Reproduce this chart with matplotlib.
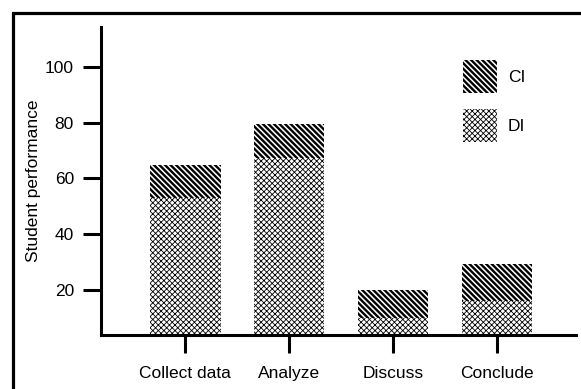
import matplotlib.pyplot as plt
from matplotlib.patches import Rectangle

plt.rcParams['font.family'] = ['Liberation Sans', 'DejaVu Sans']

# data
categories = ["Collect data", "Analyze", "Discuss", "Conclude"]
di_values = [53, 67.5, 10, 16]
ci_values = [12, 12, 10, 13.5]
series_labels = ["CI", "DI"]

fig = plt.figure(figsize=(5.81, 3.89), dpi=100)
ax = fig.add_axes([0.1738, 0.1388, 0.8176, 0.7918])

x = list(range(len(categories)))
width = 0.68

di = ax.bar(x, di_values, width, color='white', edgecolor='black',
            linewidth=0, hatch='xxxxxx', label=series_labels[1])
ci = ax.bar(x, ci_values, width, bottom=di_values, color='white',
            edgecolor='black', linewidth=0, hatch='\\' * 6, label=series_labels[0])
for p in di:
    p.set_hatch_linewidth(0.6)
for p in ci:
    p.set_hatch_linewidth(1.7)

ax.set_xlim(-0.81, 3.76)
ax.set_ylim(3.9, 114.3)
ax.set_yticks([20, 40, 60, 80, 100])
ax.set_xticks(x)
ax.set_xticklabels(categories)

for s in ['top', 'right']:
    ax.spines[s].set_visible(False)
for s in ['left', 'bottom']:
    ax.spines[s].set_linewidth(2.2)
ax.tick_params(axis='both', length=13, width=2.2, labelsize=12.5)
ax.tick_params(axis='x', pad=9)
ax.tick_params(axis='y', pad=6.5)
ax.set_ylabel("Student performance", fontsize=12.5, labelpad=3)

h, l = ax.get_legend_handles_labels()
leg = ax.legend(h[::-1], l[::-1], frameon=False, fontsize=12.5,
                handlelength=1.96, handleheight=2.55, handletextpad=0.6,
                labelspacing=0.9, loc='upper left',
                bbox_to_anchor=(0.73, 0.943))
for hd, lw in zip(leg.legend_handles, [1.7, 0.6]):
    hd.set_hatch_linewidth(lw)

# outer frame around the figure
fig.patches.append(Rectangle((13 / 581, -0.1), 1.2, 1 - 13 / 389 + 0.1,
                             transform=fig.transFigure, fill=False,
                             edgecolor='black', linewidth=2.3))

fig.savefig("out.png", dpi=100)
